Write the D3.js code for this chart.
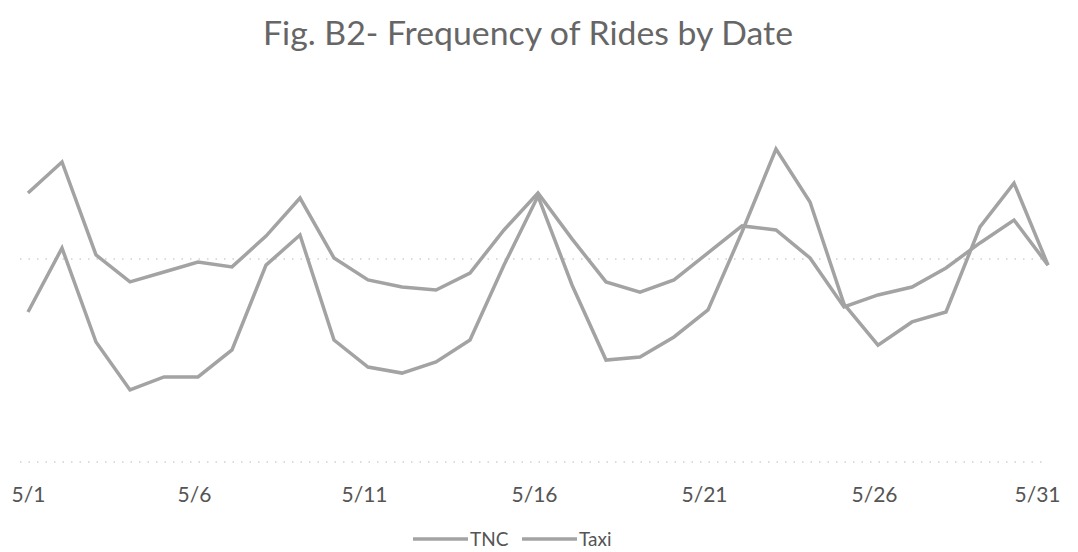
<!DOCTYPE html>
<html>
<head>
<meta charset="utf-8">
<script src="https://cdn.jsdelivr.net/npm/d3@7"></script>
<style>
  html, body { margin: 0; padding: 0; background: #fff; }
  svg { display: block; }
</style>
</head>
<body>
<svg id="chart" width="1078" height="552"></svg>
<script>
const dates = ["5/1","5/2","5/3","5/4","5/5","5/6","5/7","5/8","5/9","5/10",
  "5/11","5/12","5/13","5/14","5/15","5/16","5/17","5/18","5/19","5/20",
  "5/21","5/22","5/23","5/24","5/25","5/26","5/27","5/28","5/29","5/30","5/31"];
const tickLabels = ["5/1","5/6","5/11","5/16","5/21","5/26","5/31"];
const seriesNames = ["TNC","Taxi"];
const tncValues = [13250,14780,10200,8870,9360,9850,9610,11130,13000,10050,
  8970,8620,8470,9310,11430,13250,10990,8870,8370,8970,
  10300,11630,11430,10050,7640,8230,8620,9560,10790,11920,9700];
const taxiValues = [7390,10540,5910,3550,4190,4190,5520,9700,11180,6010,
  4680,4380,4930,6010,9700,13100,8720,5020,5170,6160,
  7490,11330,15420,12810,7780,5760,6900,7390,11580,13740,9700];
const gridValues = [0,10000];
const titleText = "Fig. B2- Frequency of Rides by Date";

const svg = d3.select("#chart");
const x = d3.scalePoint().domain(dates).range([28, 1048]);
const y = d3.scaleLinear().domain([0, 20000]).range([462, 56]);

const lineColor = "#a3a3a3";
const textColor = "#555";

// gridlines
svg.append("g").selectAll("line").data(gridValues).join("line")
  .attr("x1", 20).attr("x2", 1048)
  .attr("y1", d => y(d)).attr("y2", d => y(d))
  .attr("stroke", "#b8b8b8").attr("stroke-width", 1)
  .attr("stroke-dasharray", "1.5 7");

// title
svg.append("text")
  .attr("x", 528).attr("y", 45)
  .attr("text-anchor", "middle")
  .attr("font-family", "Lato, 'Open Sans', sans-serif")
  .attr("font-size", 33)
  .attr("fill", "#666")
  .attr("textLength", 530).attr("lengthAdjust", "spacingAndGlyphs")
  .text(titleText);

// x axis
const xAxis = d3.axisBottom(x).tickValues(tickLabels).tickSize(0).tickPadding(0);
const gx = svg.append("g").attr("transform", "translate(0,487)").call(xAxis);
gx.select(".domain").remove();
gx.selectAll("text")
  .attr("font-family", "Lato, 'Open Sans', sans-serif")
  .attr("font-size", 21)
  .attr("fill", textColor)
  .attr("dy", "0.71em")
  .attr("dx", d => d === "5/1" ? 0 : -4);
gx.selectAll(".tick").filter(d => d === "5/31").select("text")
  .attr("text-anchor", "end").attr("dx", 12);

// lines
const line = d3.line().x((d, i) => x(dates[i])).y(d => y(d));
const seriesData = [tncValues, taxiValues];
svg.append("g").selectAll("path").data(seriesData).join("path")
  .attr("d", d => line(d))
  .attr("fill", "none")
  .attr("stroke", lineColor)
  .attr("stroke-width", 3.5)
  .attr("stroke-linejoin", "miter");

// legend
const legend = svg.append("g");
const legX = [413, 522];
seriesNames.forEach((name, i) => {
  const g = legend.append("g").attr("transform", `translate(${legX[i]},539)`);
  g.append("line").attr("x1", 0).attr("x2", 55).attr("y1", 0).attr("y2", 0)
    .attr("stroke", lineColor).attr("stroke-width", 3.5);
  g.append("text").attr("x", 57).attr("y", 0).attr("dy", "0.36em")
    .attr("font-family", "Lato, 'Open Sans', sans-serif")
    .attr("font-size", 19)
    .attr("fill", textColor)
    .text(name);
});
</script>
</body>
</html>
